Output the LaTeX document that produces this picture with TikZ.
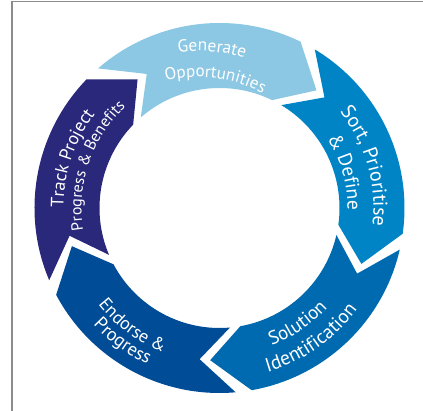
\documentclass[tikz,border=0pt]{standalone}
\usepackage{fontspec}
\setmainfont{PT Sans}
\usetikzlibrary{decorations.text}

\definecolor{gencol}{RGB}{140,200,228}
\definecolor{sortcol}{RGB}{0,132,198}
\definecolor{solcol}{RGB}{0,106,176}
\definecolor{endcol}{RGB}{0,76,150}
\definecolor{trackcol}{RGB}{42,40,122}
\definecolor{framegray}{RGB}{140,140,140}

\newcommand\ringfont[1]{\fontsize{#1}{#1}\selectfont}

\tikzset{
    ringtext/.style={decorate,
        decoration={text along path, text align=center, text color=white}}
}

\begin{document}
\begin{tikzpicture}[x=1pt,y=1pt]
\useasboundingbox (-219.5,-203) rectangle (203.5,208);

% Frame
\draw[framegray, line width=1.2pt] (-207.5,-203) -- (-207.5,206.5) -- (203.5,206.5);

% Ring segments (tail angle / colour)
\foreach \a/\col in {131/gencol, 59/sortcol, -13/solcol, -85/endcol, 203/trackcol}
    \fill[\col] (\a:185) arc[start angle=\a, end angle=\a-67, radius=185pt]
        -- (\a-80.5:152.5) -- (\a-67:120)
        arc[start angle=\a-67, end angle=\a, radius=120pt]
        -- (\a-12.5:152.5) -- cycle;

% Generate
\path[ringtext, decoration={text={|\ringfont{17.5}|Generate}}]
    ([shift={(-22,-6)}]135:163) arc[start angle=135, end angle=35, radius=163pt];
\path[ringtext, decoration={text={|\ringfont{17}|Opportunities}}]
    ([shift={(-22,-6)}]142.5:137) arc[start angle=142.5, end angle=22.5, radius=137pt];

% Sort
\path[ringtext, decoration={text={|\ringfont{20}|Sort, Prioritise}}]
    (76:154) arc[start angle=76, end angle=-44, radius=154pt];
\path[ringtext, decoration={text={|\ringfont{19.5}|{\&} Define}}]
    (76:128) arc[start angle=76, end angle=-44, radius=128pt];

% Solution
\path[ringtext, decoration={text={|\ringfont{19}|Solution}}]
    (-116:147) arc[start angle=-116, end angle=4, radius=147pt];
\path[ringtext, decoration={text={|\ringfont{19.5}|Identification}}]
    (-115:171) arc[start angle=-115, end angle=5, radius=171pt];

% Endorse
\path[ringtext, decoration={text={|\ringfont{18}|Endorse {\&}}}]
    (173.5:155) arc[start angle=173.5, end angle=293.5, radius=155pt];
\path[ringtext, decoration={text={|\ringfont{18.5}|Progress}}]
    (174:172) arc[start angle=174, end angle=294, radius=172pt];

% Track
\path[ringtext, decoration={text={|\ringfont{18}|Track Project}}]
    (216.5:156) arc[start angle=216.5, end angle=106.5, radius=156pt];
\path[ringtext, decoration={text={|\ringfont{16}|Progress {\&} Benefits}}]
    (221:138) arc[start angle=221, end angle=101, radius=138pt];

\end{tikzpicture}
\end{document}
